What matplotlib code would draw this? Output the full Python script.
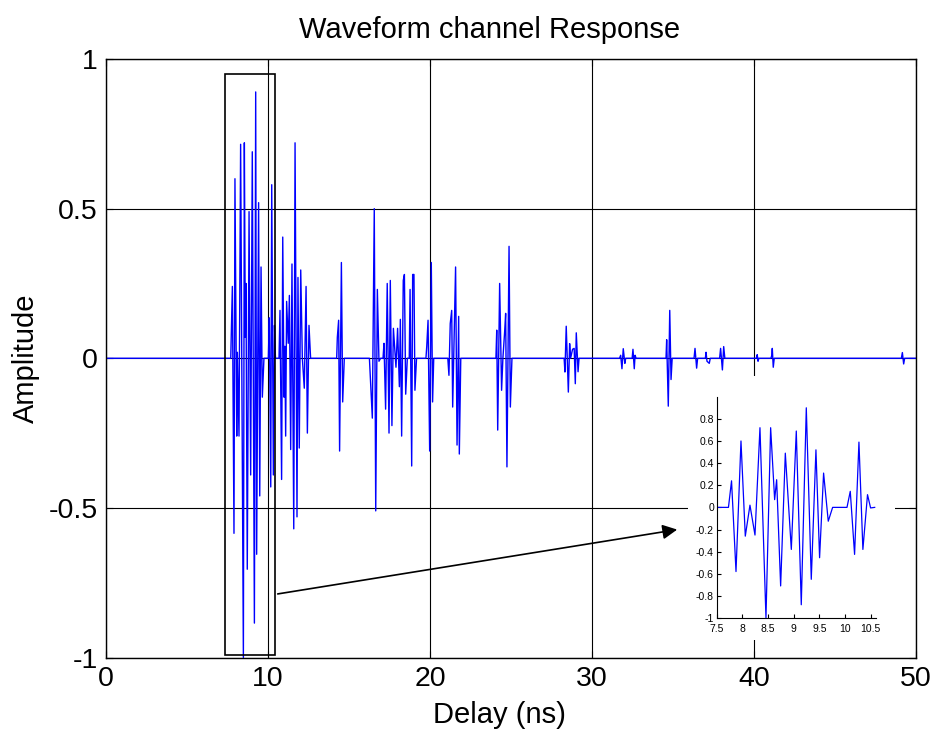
import matplotlib
matplotlib.use("Agg")
import matplotlib.pyplot as plt
from matplotlib.patches import Rectangle

plt.rcParams['font.family'] = ['Liberation Sans', 'DejaVu Sans']
plt.rcParams['axes.unicode_minus'] = False

# main trace: delay (ns) and amplitude
t_main = [0, 7.70, 7.80, 7.90, 7.96, 8.07, 8.11, 8.21, 8.31, 8.48, 8.54, 8.60, 8.64,
          8.72, 8.83, 8.93, 9.03, 9.16, 9.24, 9.30, 9.42, 9.49, 9.57, 9.65, 9.75,
          10.02, 10.08, 10.17, 10.23, 10.33, 10.40, 10.46,
          10.68, 10.74, 10.84, 10.91, 10.99, 11.04, 11.09, 11.15, 11.25, 11.32, 11.40,
          11.48, 11.59, 11.67, 11.79, 11.85, 11.93, 12.02, 12.12, 12.24, 12.35, 12.43,
          12.53, 12.63,
          14.24, 14.28, 14.36, 14.42, 14.53, 14.61, 14.71,
          16.26, 16.44, 16.56, 16.65, 16.75, 16.85, 16.95,
          17.10, 17.16, 17.26, 17.36, 17.47, 17.55, 17.65, 17.74, 17.90, 18.00, 18.11,
          18.17, 18.25, 18.35, 18.42, 18.50, 18.60,
          18.72, 18.77, 18.87, 18.93, 19.01, 19.07, 19.17,
          19.75, 19.80, 19.88, 19.98, 20.08, 20.16, 20.23,
          21.10, 21.17, 21.25, 21.34, 21.40, 21.48, 21.58, 21.67, 21.77, 21.81, 21.90,
          24.07, 24.12, 24.18, 24.30, 24.42, 24.50, 24.61, 24.67, 24.75, 24.88, 24.96, 25.06,
          28.28, 28.33, 28.41, 28.54, 28.62, 28.68, 28.80, 28.90, 28.97, 29.03, 29.14, 29.20,
          31.70, 31.77, 31.85, 31.93, 32.03, 32.08,
          32.48, 32.53, 32.61, 32.66, 32.72,
          34.57, 34.61, 34.71, 34.80, 34.88, 34.95,
          36.30, 36.36, 36.46, 36.52,
          37.00, 37.04, 37.10, 37.24, 37.30,
          37.88, 37.94, 38.05, 38.13, 38.20,
          40.15, 40.20, 40.25, 40.30,
          41.05, 41.10, 41.13, 41.19, 41.25,
          49.10, 49.16, 49.24, 49.30, 50]
amp_main = [0, 0, 0.24, -0.585, 0.60, -0.26, 0.02, -0.26, 0.715, -1.0, 0.72, 0.07, 0.25,
            -0.705, 0.49, -0.39, 0.69, -0.885, 0.89, -0.655, 0.52, -0.46, 0.305, -0.13, 0,
            0, 0.135, -0.43, 0.58, -0.39, 0.11, 0,
            0, 0.16, -0.405, 0.405, -0.13, 0.04, -0.26, 0.19, 0.05, 0.21, -0.305,
            0.315, -0.57, 0.72, -0.53, 0.27, -0.30, 0.295, 0.0, -0.10, 0.24, -0.25,
            0.11, 0,
            0, 0.07, 0.127, -0.31, 0.32, -0.146, 0,
            0, -0.20, 0.50, -0.51, 0.23, -0.01, 0,
            0, 0.05, -0.17, 0.25, -0.25, 0.26, -0.225, 0.10, -0.03, 0.10, -0.095,
            0.13, -0.26, 0.26, 0.28, -0.12, 0,
            0, 0.23, -0.36, 0.28, 0.28, -0.107, 0,
            0, 0.04, 0.127, -0.31, 0.32, -0.146, 0,
            0, -0.057, 0.116, 0.16, -0.163, 0.05, 0.305, -0.29, 0.14, -0.32, 0,
            0, 0.094, -0.24, 0.25, -0.107, 0, 0.09, 0.15, -0.363, 0.374, -0.163, 0,
            0, -0.046, 0.107, -0.113, 0.049, 0, 0.03, 0.033, -0.085, 0.085, -0.045, 0,
            0, 0.01, -0.035, 0.032, -0.017, 0,
            0, 0.03, -0.035, 0.01, 0,
            0, 0.062, -0.16, 0.16, -0.071, 0,
            0, 0.033, -0.033, 0,
            0, 0.02, -0.01, -0.017, 0,
            0, 0.033, -0.039, 0.039, 0,
            0, 0.012, -0.01, 0,
            0, 0.01, 0.033, -0.03, 0,
            0, 0.019, -0.019, 0, 0]

# zoomed first cluster shown in the inset
t_zoom = [7.50, 7.73, 7.79, 7.877, 7.974, 8.058, 8.149, 8.247, 8.344, 8.461, 8.552,
          8.63, 8.669, 8.747, 8.838, 8.955, 9.052, 9.149, 9.247, 9.344, 9.435, 9.506,
          9.584, 9.675, 9.76, 10.04, 10.104, 10.188, 10.273, 10.35, 10.44, 10.50, 10.58]
amp_zoom = [0, 0, 0.24, -0.58, 0.60, -0.26, 0.02, -0.25, 0.72, -1.0, 0.72,
            0.07, 0.25, -0.71, 0.49, -0.38, 0.69, -0.88, 0.90, -0.65, 0.52, -0.455,
            0.31, -0.125, 0.0, 0, 0.145, -0.425, 0.59, -0.38, 0.115, -0.005, 0]

x_ticks = [0, 10, 20, 30, 40, 50]
y_ticks = [-1, -0.5, 0, 0.5, 1]
y_labels = ['-1', '-0.5', '0', '0.5', '1']
zoom_xticks = [7.5, 8, 8.5, 9, 9.5, 10, 10.5]
zoom_yticks = [-1, -0.8, -0.6, -0.4, -0.2, 0, 0.2, 0.4, 0.6, 0.8]

fig = plt.figure(figsize=(9.34, 7.34), dpi=100)
ax = fig.add_axes([0.1135, 0.1042, 0.8672, 0.8154])
ax.plot(t_main, amp_main, color='#0000ff', lw=1.0)
ax.set_xlim(0, 50)
ax.set_ylim(-1, 1)
ax.set_xticks(x_ticks)
ax.set_yticks(y_ticks)
ax.set_yticklabels(y_labels)
ax.grid(True, color='k', lw=0.8, ls='-')
ax.tick_params(direction='in', top=True, right=True, labelsize=20.5, length=5, pad=6)
for s in ax.spines.values():
    s.set_linewidth(1.0)
ax.set_title('Waveform channel Response', fontsize=21, pad=15, x=0.473)
ax.set_xlabel('Delay (ns)', fontsize=21)
ax.xaxis.set_label_coords(0.486, -0.072)
ax.set_ylabel('Amplitude', fontsize=21, labelpad=6)

# zoom box and arrow
ax.add_patch(Rectangle((7.35, -0.99), 3.08, 1.94, fill=False, ec='k', lw=1.2, zorder=3))
ax.annotate('', xy=(35.43, -0.571), xytext=(10.43, -0.789),
            arrowprops=dict(arrowstyle='-|>', color='k', lw=1.2, mutation_scale=22))

# white backing behind the inset
fig.patches.append(Rectangle((688 / 934, 1 - 640 / 734), 207 / 934, 264 / 734,
                             transform=fig.transFigure, fc='white', ec='none', zorder=1))

ins = fig.add_axes([0.7673, 0.158, 0.1703, 0.3015], zorder=2)
ins.plot(t_zoom, amp_zoom, color='#0000ff', lw=0.9)
ins.set_xlim(7.5, 10.6)
ins.set_ylim(-1, 1)
ins.set_xticks(zoom_xticks)
ins.set_xticklabels(['7.5', '8', '8.5', '9', '9.5', '10', '10.5'])
ins.set_yticks(zoom_yticks)
ins.set_yticklabels(['-1', '-0.8', '-0.6', '-0.4', '-0.2', '0', '0.2', '0.4', '0.6', '0.8'])
ins.spines['top'].set_visible(False)
ins.spines['right'].set_visible(False)
ins.tick_params(direction='in', labelsize=7.5, length=3, pad=2)
ins.tick_params(axis='x', pad=4)
ins.patch.set_alpha(0)

fig.savefig('out.png', dpi=100)
